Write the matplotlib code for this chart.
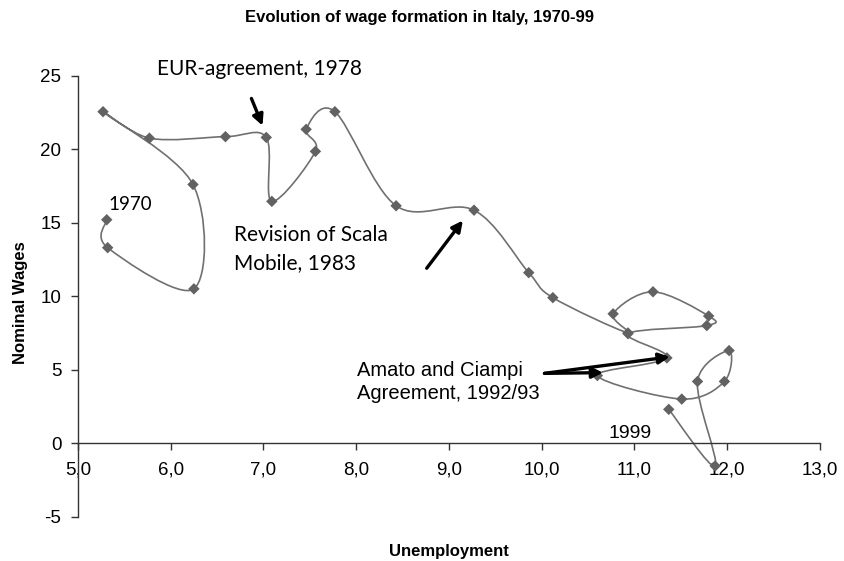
import numpy as np
import matplotlib
matplotlib.use("Agg")
import matplotlib.pyplot as plt
from matplotlib.path import Path
from matplotlib.patches import PathPatch
from matplotlib.ticker import FuncFormatter

plt.rcParams["font.family"] = ["Liberation Sans", "DejaVu Sans"]
plt.rcParams["axes.unicode_minus"] = False

# values (1970-1999)
years = list(range(1970, 2000))
unemployment = [5.31, 5.32, 6.25, 6.24, 5.27, 5.77, 6.59, 7.03, 7.09, 7.56,
                7.46, 7.77, 8.43, 9.27, 9.86, 10.12, 10.93, 10.77, 11.20, 11.80,
                11.78, 10.93, 11.35, 10.60, 11.51, 11.97, 12.02, 11.68, 11.87, 11.37]
nominal_wages = [15.2, 13.3, 10.5, 17.6, 22.55, 20.75, 20.85, 20.8, 16.45, 19.85,
                 21.35, 22.55, 16.15, 15.85, 11.6, 9.9, 7.5, 8.8, 10.3, 8.65,
                 8.0, 7.45, 5.8, 4.6, 3.0, 4.2, 6.3, 4.2, -1.55, 2.3]

x_ticks = [5, 6, 7, 8, 9, 10, 11, 12, 13]
y_ticks = [-5, 0, 5, 10, 15, 20, 25]

point_color = "#626262"
line_color = "#707070"


def smooth_path(xs, ys):
    # excel style smoothed line: cubic bezier through every point
    pts = np.column_stack([xs, ys])
    padded = np.vstack([pts[0], pts, pts[-1]])
    verts = [pts[0]]
    codes = [Path.MOVETO]
    for i in range(len(pts) - 1):
        p0, p1, p2, p3 = padded[i], padded[i + 1], padded[i + 2], padded[i + 3]
        verts += [p1 + (p2 - p0) / 6.0, p2 - (p3 - p1) / 6.0, p2]
        codes += [Path.CURVE4] * 3
    return Path(verts, codes)


fig = plt.figure(figsize=(8.44, 5.61), dpi=100)
ax = fig.add_axes([0.0924, 0.0790, 0.8791, 0.7861])

# smoothed connecting line + diamond markers
ax.add_patch(PathPatch(smooth_path(unemployment, nominal_wages), facecolor="none",
                       edgecolor=line_color, lw=1.2, zorder=2))
ax.scatter(unemployment, nominal_wages, marker="D", s=34, color=point_color,
           edgecolors="none", zorder=3)

ax.set_xlim(5, 13)
ax.set_ylim(-5, 25)
ax.set_xticks(x_ticks)
ax.set_yticks(y_ticks)
ax.xaxis.set_major_formatter(FuncFormatter(lambda v, p: f"{v:.1f}".replace(".", ",")))

# axes like excel: x axis crossing at zero
ax.spines["top"].set_visible(False)
ax.spines["right"].set_visible(False)
ax.spines["bottom"].set_position(("data", 0))
for s in ("left", "bottom"):
    ax.spines[s].set_color("#333333")
    ax.spines[s].set_linewidth(1.0)
ax.tick_params(axis="both", direction="out", length=5, width=1.0, color="#333333",
               labelsize=13.5)
ax.tick_params(axis="x", pad=8)
ax.tick_params(axis="y", pad=7)

ax.set_xlabel("Unemployment", fontsize=12, fontweight="bold")
ax.set_ylabel("Nominal Wages", fontsize=12, fontweight="bold")
ax.xaxis.set_label_coords(0.5, -0.062)
ax.yaxis.set_label_coords(-0.068, 0.485)

fig.text(0.497, 0.968, "Evolution of wage formation in Italy, 1970-99", ha="center",
         va="center", fontsize=12, fontweight="bold")

# annotations
note_font = ["Lato", "DejaVu Sans"]
ax.text(5.33, 15.85, "1970", fontsize=13.5, family=note_font)
ax.text(5.85, 25.05, "EUR-agreement, 1978", fontsize=15, family=note_font, clip_on=False)
ax.text(6.68, 14.85, "Revision of Scala\nMobile, 1983", fontsize=15, family=note_font,
        linespacing=1.5, va="top")
ax.text(8.01, 4.15, "Amato and Ciampi\nAgreement, 1992/93", fontsize=14.5,
        linespacing=1.25, va="center")
ax.text(10.72, 0.32, "1999", fontsize=14)

arrow = dict(arrowstyle="-|>", color="black", lw=2.4, mutation_scale=16,
             shrinkA=0, shrinkB=0)
ax.annotate("", xy=(6.99, 21.6), xytext=(6.87, 23.45), arrowprops=arrow)
ax.annotate("", xy=(9.15, 15.15), xytext=(8.76, 11.9), arrowprops=arrow)
ax.annotate("", xy=(11.38, 5.87), xytext=(10.03, 4.75), arrowprops=arrow)
ax.annotate("", xy=(10.66, 4.8), xytext=(10.03, 4.75), arrowprops=arrow)

fig.savefig("out.png", dpi=100, facecolor="white")
